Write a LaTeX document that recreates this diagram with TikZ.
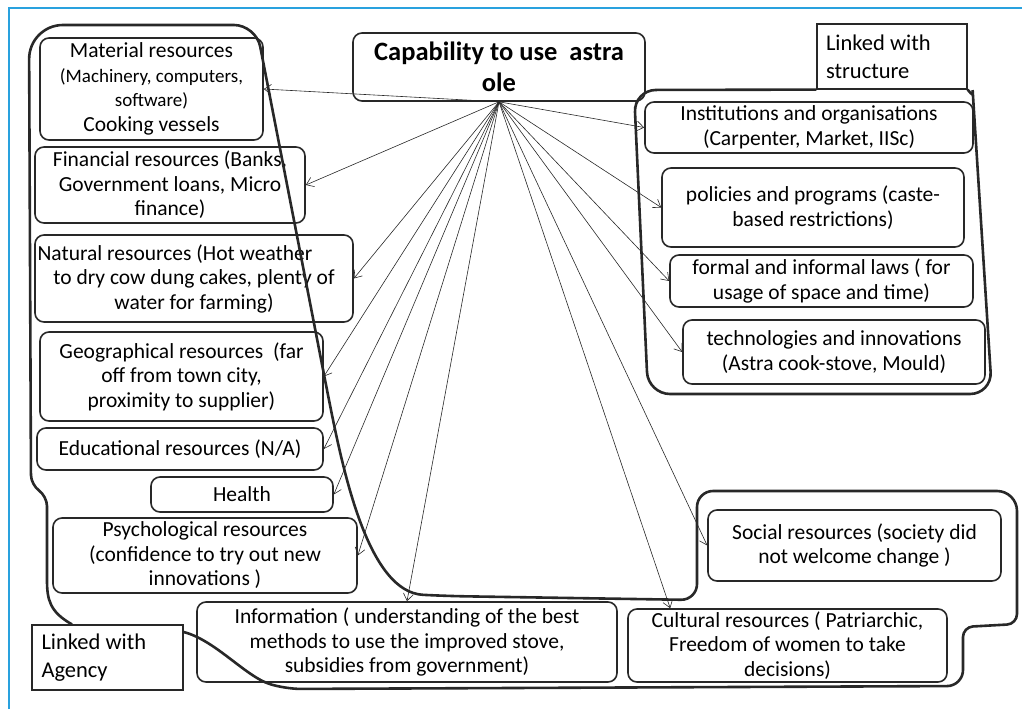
\documentclass[tikz,border=0pt]{standalone}
\usepackage{fontspec}
\setmainfont{Carlito}
\usetikzlibrary{arrows.meta}
\definecolor{frameblue}{RGB}{41,161,222}
\definecolor{ink}{RGB}{40,40,40}

\begin{document}
\begin{tikzpicture}[x=1pt,y=-1pt,
	every node/.style={font=\fontsize{21.5}{24.5}\selectfont},
	res/.style={draw=ink, line width=1.6pt, rounded corners=9pt, align=center, inner sep=0pt},
	tag/.style={draw=ink, line width=1.2pt, align=flush left, text width=132pt, inner sep=0pt, font=\fontsize{22.5}{28}\selectfont},
	arr/.style={-{Straight Barb[length=7pt,width=10pt]}, line width=0.6pt, ink},
	grp/.style={line width=2.6pt, ink}]
	\useasboundingbox (0,0) rectangle (1022,709);
	\draw[frameblue, line width=2.4pt] (9,709) -- (9,8) -- (1022,8);

	% centre
	\node[res, minimum width=292pt, minimum height=68pt, font=\bfseries\fontsize{26.5}{31}\selectfont] (cap) at (499,67) {Capability to use \ astra\\ole};

	% agency side
	\node[res, minimum width=223pt, minimum height=102pt] (mat) at (151.5,89) {Material resources\\{\fontsize{19}{23}\selectfont (Machinery, computers,}\\{\fontsize{19}{23}\selectfont software)}\\Cooking vessels};
	\node[res, minimum width=270pt, minimum height=76pt] (fin) at (170,185) {Financial resources (Banks,\\Government loans, Micro\\finance)};
	\node[res, minimum width=318pt, minimum height=87pt] (nat) at (194,278.5) {Natural resources (Hot weather\hspace*{38pt}\\to dry cow dung cakes, plenty of\\water for farming)};
	\node[res, minimum width=283pt, minimum height=89pt] (geo) at (181.5,376.5) {Geographical resources \ (far\\off from town city,\\proximity to supplier)};
	\node[res, minimum width=286pt, minimum height=42pt] (edu) at (180,449) {Educational resources (N/A)};
	\node[res, minimum width=182pt, minimum height=35pt] (hea) at (242,494.5) {Health};
	\node[res, minimum width=304pt, minimum height=75pt] (psy) at (205,555.5) {Psychological resources\\(confidence to try out new\\innovations )};
	\node[res, minimum width=420pt, minimum height=80pt] (inf) at (407,642) {Information ( understanding of the best\\methods to use the improved stove,\\subsidies from government)};
	\node[res, minimum width=319pt, minimum height=73pt] (cult) at (787.5,645.5) {Cultural resources ( Patriarchic,\\Freedom of women to take\\decisions)};
	\node[res, minimum width=293pt, minimum height=71pt] (soc) at (854.5,545.5) {Social resources (society did\\not welcome change )};

	% structure side
	\node[res, minimum width=328pt, minimum height=51pt] (inst) at (809,127.5) {Institutions and organisations\\(Carpenter, Market, IISc)};
	\node[res, minimum width=302pt, minimum height=79pt] (pol) at (813,207.5) {policies and programs (caste-\\based restrictions)};
	\node[res, minimum width=303pt, minimum height=52pt] (law) at (821.5,281) {formal and informal laws ( for\\usage of space and time)};
	\node[res, minimum width=302pt, minimum height=64pt] (tech) at (834,352) {technologies and innovations\\(Astra cook-stove, Mould)};

	\node[tag, minimum width=150pt, minimum height=65pt] (lstr) at (892,56.5) {Linked with\\structure};
	\node[tag, minimum width=151pt, minimum height=65pt] (lag) at (107.5,657.5) {Linked with\\Agency};

	% arrows
	\foreach \t in {mat.east, fin.east, nat.east, geo.east, edu.east, hea.east, psy.east, inf.north, soc.west, inst.west, pol.west, law.west, tech.west}
		\draw[arr] (cap.south) -- (\t);
	\draw[arr] (cap.south) -- ([xshift=43pt]cult.north west);

	% groups
	\draw[grp, rounded corners=10pt] (lag.north -| 72,0) .. controls (50,612) and (47,600) .. (47,570) -- (47,496) -- (31,485) [rounded corners=34pt] -- (29,25) [rounded corners=22pt] -- (256,25) -- (326,385) .. controls (345,480) and (370,592) .. (445,596) [rounded corners=16pt] -- (697,600) -- (697,491) [rounded corners=20pt] -- (1017,491) [rounded corners=10pt] -- (1017,624) -- (963,627) [rounded corners=16pt] -- (963,686) -- (285,689) .. controls (245,676) and (215,640) .. (lag.east |- 0,632);
	\draw[grp, rounded corners=22pt] (lstr.south west) -- (634,90) -- (648,394) -- (992,394) -- (974,112) .. controls (973,96) .. (lstr.south east);
\end{tikzpicture}
\end{document}
